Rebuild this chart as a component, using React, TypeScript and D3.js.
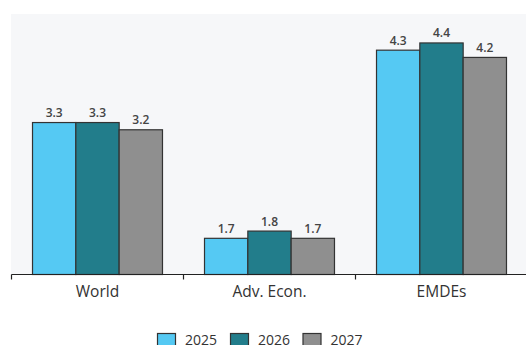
import React from "react";
import * as d3 from "d3";

const categories = ["World", "Adv. Econ.", "EMDEs"];
const seriesNames = ["2025", "2026", "2027"];
const values2025 = [3.3, 1.7, 4.3];
const values2026 = [3.3, 1.8, 4.4];
const values2027 = [3.2, 1.7, 4.2];
const seriesColors = ["#55c9f3", "#227d8b", "#8f8f8f"];
const yDomain = [1.2, 4.8];

const W = 526;
const H = 345;

export default function App() {
  const series = [values2025, values2026, values2027];
  const left = 11.5;
  const right = 527.5;
  const top = 14;
  const bottom = 274.5;
  const x0 = d3.scaleBand<string>().domain(categories).range([left, right]).paddingInner(0).paddingOuter(0);
  const x1 = d3.scaleBand<string>().domain(seriesNames).range([0, x0.bandwidth()]).paddingInner(0).paddingOuter(0.485);
  const y = d3.scaleLinear().domain(yDomain).range([bottom, top]);
  const font = "'Open Sans', 'DejaVu Sans', sans-serif";
  const tickXs = [left, ...categories.slice(1).map((c) => x0(c)!)];
  const legendXs = [157.5, 230.5, 303];
  return (
    <svg width={W} height={H} style={{ position: "absolute", left: 0, top: 0 }}>
      <rect x={11} y={top} width={W - 11} height={bottom - top} fill="#f6f7f9" />
      {categories.map((c, i) => (
        <g key={c}>
          {seriesNames.map((s, j) => {
            const v = series[j][i];
            const bx = x0(c)! + x1(s)!;
            const bw = x1.bandwidth();
            return (
              <g key={s}>
                <rect x={bx} y={y(v)} width={bw} height={bottom - y(v)} fill={seriesColors[j]} stroke="#333" strokeWidth={1.2} />
                <text x={bx + bw / 2} y={y(v) - 5.5} textAnchor="middle" fontSize={12} fontWeight={600} fontFamily={font} fill="#444">
                  {v.toFixed(1)}
                </text>
              </g>
            );
          })}
          <text x={x0(c)! + x0.bandwidth() / 2} y={296.7} textAnchor="middle" fontSize={15.5} fontFamily={font} fill="#333">
            {c}
          </text>
        </g>
      ))}
      <line x1={left} x2={W} y1={bottom} y2={bottom} stroke="#222" strokeWidth={1.2} />
      {tickXs.map((tx, i) => (
        <line key={i} x1={tx} x2={tx} y1={bottom} y2={bottom + 5} stroke="#222" strokeWidth={1.2} />
      ))}
      {seriesNames.map((s, j) => (
        <g key={s}>
          <rect x={legendXs[j]} y={333.5} width={18} height={16} fill={seriesColors[j]} stroke="#333" strokeWidth={1.2} />
          <text x={legendXs[j] + 27.5} y={344.5} fontSize={14} fontFamily={font} fill="#333">
            {s}
          </text>
        </g>
      ))}
    </svg>
  );
}
